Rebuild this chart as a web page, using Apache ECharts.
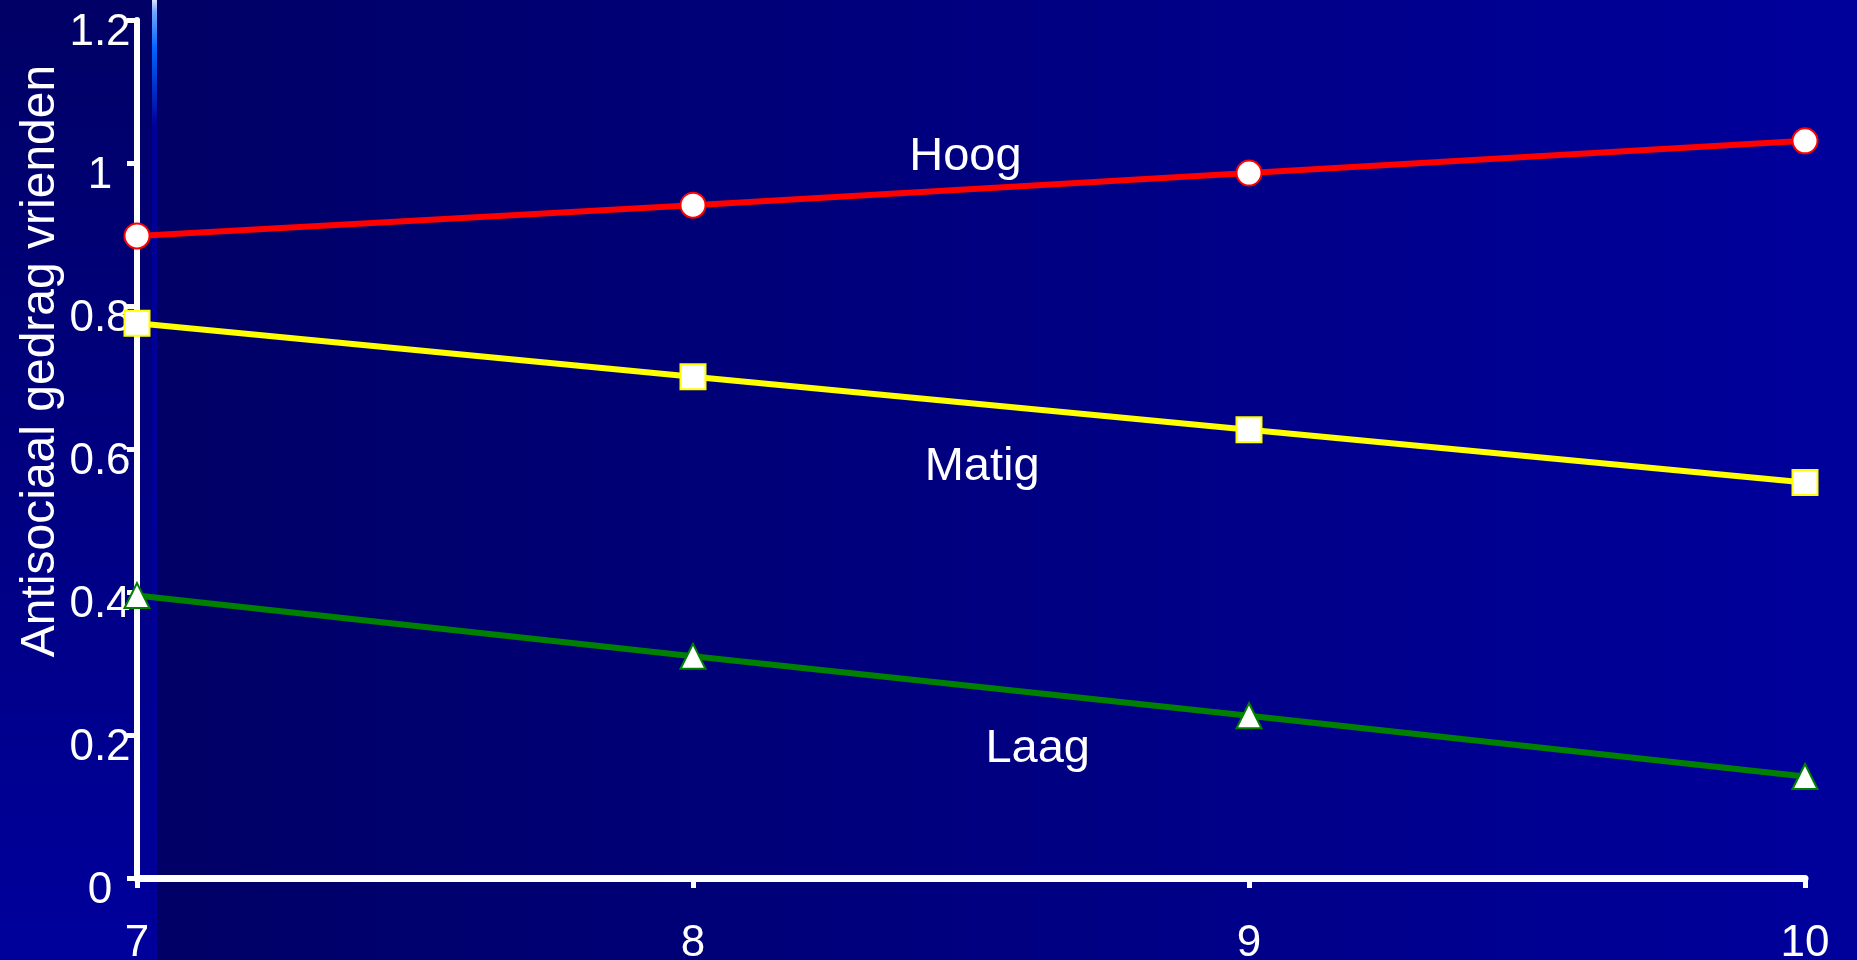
<!DOCTYPE html>
<html>
<head>
<meta charset="utf-8">
<script src="https://cdn.jsdelivr.net/npm/echarts@6/dist/echarts.min.js"></script>
<style>
html,body{margin:0;padding:0;background:#000099;}
#chart{width:1857px;height:960px;}
</style>
</head>
<body>
<div id="chart"></div>
<script>
// ---- data ----
const years = [7, 8, 9, 10];
const hoog = [0.898, 0.941, 0.986, 1.031];
const matig = [0.776, 0.701, 0.627, 0.553];
const laag = [0.395, 0.310, 0.227, 0.142];
const groupNames = ['Hoog', 'Matig', 'Laag'];
const groupLabelX = [8.49, 8.52, 8.62];
const groupLabelY = [1.009, 0.575, 0.181];
const yAxisTitle = 'Antisociaal gedrag vrienden';

const FONT = '"Liberation Sans", Arial, sans-serif';

function pairs(xs, ys) { return xs.map((x, i) => [x, ys[i]]); }

const chart = echarts.init(document.getElementById('chart'), null, {renderer: 'canvas'});

const option = {
  backgroundColor: '#000099',
  animation: false,
  graphic: [
    {type: 'rect', z: -100, silent: true, shape: {x: 0, y: 0, width: 152, height: 960},
     style: {fill: new echarts.graphic.LinearGradient(0, 0, 0, 1, [{offset: 0, color: '#000066'}, {offset: 1, color: '#00009c'}])}},
    {type: 'rect', z: -100, silent: true, shape: {x: 152, y: 0, width: 1705, height: 960},
     style: {fill: new echarts.graphic.LinearGradient(0, 0, 1, 0, [{offset: 0, color: '#000066'}, {offset: 1, color: '#00009c'}])}},
    {type: 'rect', z: -99, silent: true, shape: {x: 152, y: 0, width: 5, height: 960},
     style: {fill: new echarts.graphic.LinearGradient(0, 0, 0, 1, [
       {offset: 0, color: '#d8e4ff'}, {offset: 0.012, color: '#6fa8ff'}, {offset: 0.05, color: '#0066ff'},
       {offset: 0.09, color: '#0033cc'}, {offset: 0.13, color: '#000099'}, {offset: 1, color: '#000099'}])}},
    {type: 'text', z: 10, silent: true, x: 41, y: 361, rotation: Math.PI / 2,
     style: {text: yAxisTitle, fill: '#ffffff', fontSize: 48, fontFamily: FONT, align: 'center', verticalAlign: 'middle'}}
  ],
  grid: {left: 137, right: 52, top: 20, bottom: 82, containLabel: false, outerBoundsMode: 'none'},
  xAxis: {
    type: 'value', min: 7, max: 10, interval: 1,
    axisLine: {show: true, onZero: false, lineStyle: {color: '#ffffff', width: 7}},
    axisTick: {show: true, length: 10, lineStyle: {color: '#ffffff', width: 5}},
    axisLabel: {color: '#ffffff', fontSize: 44, fontFamily: FONT, margin: 44},
    splitLine: {show: false}
  },
  yAxis: {
    type: 'value', min: 0, max: 1.2, interval: 0.2,
    axisLine: {show: true, onZero: false, lineStyle: {color: '#ffffff', width: 6}},
    axisTick: {show: true, length: 10, lineStyle: {color: '#ffffff', width: 5}},
    axisLabel: {color: '#ffffff', fontSize: 44, fontFamily: FONT, margin: 37, align: 'center',
                verticalAlign: 'top', lineHeight: 26},
    splitLine: {show: false}
  },
  series: [
    {name: 'Hoog', type: 'line', data: pairs(years, hoog), symbol: 'circle', symbolSize: 25,
     lineStyle: {color: '#ff0000', width: 6}, itemStyle: {color: '#ffffff', borderColor: '#ff0000', borderWidth: 2}, z: 3},
    {name: 'Matig', type: 'line', data: pairs(years, matig), symbol: 'rect', symbolSize: 25,
     lineStyle: {color: '#ffff00', width: 6}, itemStyle: {color: '#ffffff', borderColor: '#ffff00', borderWidth: 2}, z: 3},
    {name: 'Laag', type: 'line', data: pairs(years, laag), symbol: 'triangle', symbolSize: 25,
     lineStyle: {color: '#008000', width: 6}, itemStyle: {color: '#ffffff', borderColor: '#008000', borderWidth: 2}, z: 3},
    {name: 'labels', type: 'scatter', symbolSize: 0, itemStyle: {color: '#ffffff'}, silent: true,
     data: groupNames.map((n, i) => ({name: n, value: [groupLabelX[i], groupLabelY[i]]})),
     label: {show: true, position: 'inside', formatter: p => p.name, color: '#ffffff', opacity: 1,
             textBorderWidth: 0, fontSize: 47, fontFamily: FONT}}
  ]
};
chart.setOption(option);
</script>
</body>
</html>
